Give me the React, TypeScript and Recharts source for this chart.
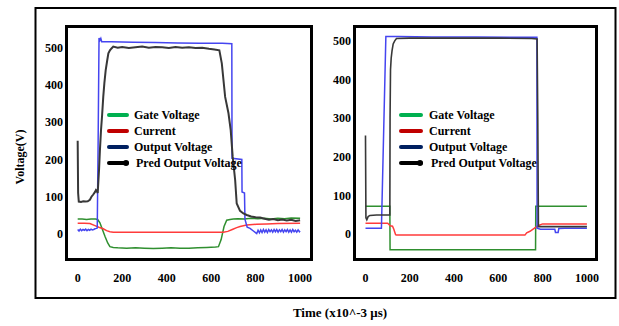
import React from "react";
import { LineChart, Line, XAxis, YAxis, Legend } from "recharts";

const FONT = '"Liberation Serif", "Times New Roman", serif';

// ---------- axis ticks ----------
const xTicks = [0, 200, 400, 600, 800, 1000];
const yTicks = [0, 100, 200, 300, 400, 500];

// ---------- legend ----------
const legendNames = ["Gate Voltage", "Current", "Output Voltage", "Pred Output Voltage"];
const legendColors = ["#00b050", "#c00000", "#002060", "#000000"];

// ---------- left panel ----------
const leftGateT = [0, 20, 40, 60, 80, 90, 100, 110, 123, 135, 145, 160, 180, 220, 260, 300, 340, 380, 420, 460, 500, 540, 580, 620, 633, 645, 658, 670, 685, 700, 720, 750, 780, 810, 840, 870, 900, 930, 960, 1000];
const leftGateV = [40, 40, 39, 40, 40, 39, 30, 14, -7, -24, -34, -36, -37, -38, -37, -38, -39, -38, -37, -38, -38, -37, -36, -35, -34, -15, 20, 37, 39, 40, 41, 40, 42, 41, 42, 40, 42, 41, 43, 42];

const leftCurrT = [0, 30, 55, 75, 95, 115, 130, 145, 160, 300, 500, 655, 675, 695, 715, 730, 760, 805, 850, 900, 1000];
const leftCurrV = [29, 29, 28, 23, 18, 14, 9, 6, 5, 5, 5, 5, 7, 12, 17, 20, 24, 26, 27, 28, 29];

const leftOutT = [0, 6, 12, 18, 24, 30, 36, 42, 48, 54, 60, 66, 72, 78, 84, 88, 92, 96, 100, 104, 108, 150, 250, 350, 450, 550, 650, 693, 694, 738, 739, 750, 752, 762, 775, 790, 805, 811, 817, 823, 829, 835, 841, 847, 853, 859, 865, 871, 877, 883, 889, 895, 901, 907, 913, 919, 925, 931, 937, 943, 949, 955, 961, 967, 973, 979, 985, 991, 997, 1000];
const leftOutV = [12, 8, 13, 9, 12, 10, 13, 9, 12, 10, 13, 11, 12, 14, 15, 16, 250, 526, 520, 525, 516, 516, 515, 514, 513, 512, 512, 511, 203, 200, 113, 110, 40, 18, 15, 8, 1, 10, 3, 11, 4, 12, 5, 11, 4, 12, 6, 11, 5, 12, 6, 12, 5, 11, 6, 12, 5, 11, 6, 12, 5, 11, 5, 12, 6, 10, 5, 11, 6, 8];

const leftPredT = [0, 2, 5, 15, 25, 35, 45, 55, 62, 70, 78, 82, 86, 90, 96, 100, 105, 110, 115, 120, 126, 132, 138, 145, 152, 160, 180, 200, 230, 260, 290, 320, 350, 380, 410, 440, 470, 500, 530, 560, 590, 615, 637, 648, 663, 678, 688, 697, 708, 715, 730, 745, 760, 780, 800, 820, 840, 860, 880, 900, 920, 940, 960, 980, 1000];
const leftPredV = [250, 110, 87, 86, 88, 87, 88, 92, 100, 106, 113, 118, 115, 110, 172, 225, 279, 320, 368, 405, 440, 463, 485, 493, 498, 503, 500, 502, 499, 501, 503, 500, 502, 501, 499, 502, 500, 501, 499, 500, 497, 495, 493, 458, 368, 324, 279, 207, 145, 82, 62, 55, 51, 47, 45, 44, 41, 38, 40, 37, 39, 36, 38, 35, 37];

// ---------- right panel ----------
const rightGateT = [0, 110, 111, 768, 769, 1000];
const rightGateV = [72, 72, -41, -41, 72, 72];

const rightCurrT = [0, 100, 105, 112, 122, 128, 136, 140, 300, 500, 720, 728, 743, 760, 781, 800, 1000];
const rightCurrV = [28, 28, 25, 21, 20, 12, -2, -3, -3, -3, -3, 3, 7, 14, 22, 26, 26];

const rightOutT = [0, 72, 92, 150, 300, 500, 700, 774, 775, 790, 855, 858, 870, 873, 900, 1000];
const rightOutV = [15, 15, 511, 511, 510, 510, 509, 509, 15, 12, 12, 4, 4, 14, 15, 15];

const rightPredT = [0, 2, 6, 12, 20, 50, 80, 110, 111, 113, 116, 120, 125, 132, 140, 200, 400, 600, 750, 775, 778, 781, 900, 1000];
const rightPredV = [255, 42, 37, 45, 48, 49, 49, 49, 300, 425, 455, 475, 492, 500, 506, 507, 507, 507, 506, 505, 300, 19, 19, 19];

const zip = (t: number[], v: number[]) => t.map((x, i) => ({ x, y: v[i] }));

const tickStyle = { fill: "#000", fontSize: 12, fontWeight: "bold" as const, fontFamily: FONT };

const makeLegend = (swatchW: number, gap: number) => () => (
  <div style={{ fontFamily: FONT, fontWeight: "bold", fontSize: 12, color: "#000" }}>
    {legendNames.map((n, i) => (
      <div key={n} style={{ display: "flex", alignItems: "center", height: 16, whiteSpace: "nowrap" }}>
        <svg width={swatchW} height={8} style={{ marginRight: gap, flex: "none" }}>
          <line x1={4} y1={4} x2={swatchW - 4} y2={4} stroke={legendColors[i]} strokeWidth={4} strokeLinecap="round" />
          {i === 3 && <circle cx={swatchW - 5} cy={4} r={3} fill={legendColors[i]} />}
        </svg>
        <span style={{ paddingLeft: i === 3 ? 2 : 0 }}>{n}</span>
      </div>
    ))}
  </div>
);

type PanelProps = {
  left: number;
  width: number;
  margin: { top: number; right: number; bottom: number; left: number };
  yWidth: number;
  xDomain: [number, number];
  yDomain: [number, number];
  gate: { x: number; y: number }[];
  curr: { x: number; y: number }[];
  out: { x: number; y: number }[];
  pred: { x: number; y: number }[];
  legendPos: { left: number; top: number };
  swatchW: number;
  gap: number;
  predWidth: number;
};

function Panel(p: PanelProps) {
  return (
    <div style={{ position: "absolute", left: p.left, top: 0 }}>
      <LineChart width={p.width} height={300} margin={p.margin}>
        <XAxis
          type="number"
          dataKey="x"
          domain={p.xDomain}
          ticks={xTicks}
          allowDataOverflow
          axisLine={false}
          tickLine={false}
          tickSize={0}
          tickMargin={12}
          height={30}
          tick={tickStyle}
          interval={0}
        />
        <YAxis
          type="number"
          dataKey="y"
          domain={p.yDomain}
          ticks={yTicks}
          allowDataOverflow
          axisLine={false}
          tickLine={false}
          tickSize={0}
          tickMargin={2}
          width={p.yWidth}
          tick={tickStyle}
          interval={0}
        />
        <Legend
          layout="vertical"
          align="center"
          verticalAlign="middle"
          content={makeLegend(p.swatchW, p.gap)}
          wrapperStyle={{ left: p.legendPos.left, top: p.legendPos.top, width: 200, height: 64 }}
        />
        <Line data={p.gate} dataKey="y" name="Gate Voltage" stroke="#2f8f2f" strokeWidth={1.5} dot={false} isAnimationActive={false} type="linear" legendType="none" />
        <Line data={p.curr} dataKey="y" name="Current" stroke="#ff3b3b" strokeWidth={1.5} dot={false} isAnimationActive={false} type="linear" legendType="none" />
        <Line data={p.out} dataKey="y" name="Output Voltage" stroke="#4545f0" strokeWidth={1.5} dot={false} isAnimationActive={false} type="linear" legendType="none" />
        <Line data={p.pred} dataKey="y" name="Pred Output Voltage" stroke="#383838" strokeWidth={p.predWidth} dot={false} isAnimationActive={false} type="linear" legendType="none" />
      </LineChart>
    </div>
  );
}

export default function App() {
  return (
    <div style={{ position: "absolute", left: 0, top: 0, width: 619, height: 326, background: "#fff", overflow: "hidden" }}>
      <Panel
        left={0}
        width={330}
        margin={{ top: 25, right: 17, bottom: 9, left: 25 }}
        yWidth={40}
        xDomain={[-57, 1058]}
        yDomain={[-72.5, 561]}
        gate={zip(leftGateT, leftGateV)}
        curr={zip(leftCurrT, leftCurrV)}
        out={zip(leftOutT, leftOutV)}
        pred={zip(leftPredT, leftPredV)}
        legendPos={{ left: 105, top: 107 }}
        swatchW={26}
        gap={3}
        predWidth={2}
      />
      <Panel
        left={320}
        width={299}
        margin={{ top: 25, right: 21, bottom: 9, left: 3 }}
        yWidth={30}
        xDomain={[-56.4, 1050]}
        yDomain={[-70, 541]}
        gate={zip(rightGateT, rightGateV)}
        curr={zip(rightCurrT, rightCurrV)}
        out={zip(rightOutT, rightOutV)}
        pred={zip(rightPredT, rightPredV)}
        legendPos={{ left: 77, top: 107 }}
        swatchW={28}
        gap={4}
        predWidth={1.6}
      />
      <svg width={619} height={326} style={{ position: "absolute", left: 0, top: 0, pointerEvents: "none" }}>
        <rect x={35.5} y={8} width={580} height={290} fill="none" stroke="#000" strokeWidth={2} />
        <rect x={66.5} y={26.5} width={245} height={233} fill="none" stroke="#000" strokeWidth={3} />
        <rect x={354.5} y={26.5} width={242} height={233} fill="none" stroke="#000" strokeWidth={3} />
        <text x={20} y={157} transform="rotate(-90 20 157)" textAnchor="middle" dominantBaseline="central" fontFamily={FONT} fontWeight="bold" fontSize={12} fill="#000">
          Voltage(V)
        </text>
        <text x={340} y={317} textAnchor="middle" fontFamily={FONT} fontWeight="bold" fontSize={13} fill="#000">
          Time (x10^-3 μs)
        </text>
      </svg>
    </div>
  );
}
